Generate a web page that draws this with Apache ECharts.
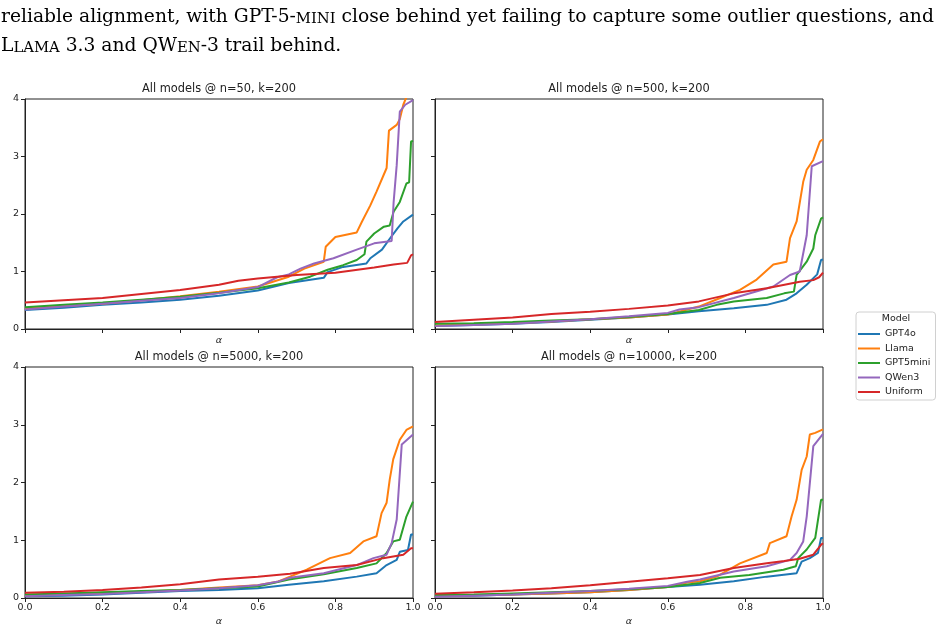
<!DOCTYPE html>
<html><head><meta charset="utf-8">
<script src="https://cdn.jsdelivr.net/npm/echarts@6/dist/echarts.min.js"></script>
<style>html,body{margin:0;padding:0;background:#fff}#c{width:947px;height:633px}</style>
</head><body><div id="c"></div>
<script>
const models = ['GPT4o', 'Llama', 'GPT5mini', 'QWen3', 'Uniform'];
const colors = ['#1f77b4', '#ff7f0e', '#2ca02c', '#9467bd', '#d62728'];
const panelTitles = ['All models @ n=50, k=200', 'All models @ n=500, k=200', 'All models @ n=5000, k=200', 'All models @ n=10000, k=200'];
const xTickStep = 0.2;
const yTickStep = 1;
const yMax = 4;

// n = 50
const n50_GPT4o = [[0,0.33],[0.1,0.37],[0.2,0.42],[0.3,0.46],[0.4,0.51],[0.5,0.58],[0.6,0.67],[0.68,0.8],[0.77,0.89],[0.78,0.99],[0.82,1.08],[0.88,1.14],[0.89,1.23],[0.92,1.38],[0.94,1.57],[0.96,1.75],[0.975,1.87],[1.0,1.99]];
const n50_Llama = [[0,0.36],[0.1,0.4],[0.2,0.44],[0.3,0.5],[0.4,0.57],[0.5,0.65],[0.6,0.74],[0.68,0.91],[0.72,1.05],[0.77,1.17],[0.775,1.43],[0.8,1.6],[0.855,1.68],[0.868,1.86],[0.89,2.15],[0.906,2.39],[0.932,2.8],[0.938,3.45],[0.958,3.55],[0.966,3.65],[0.975,3.9],[0.984,4.05],[1.0,4.3]];
const n50_GPT5mini = [[0,0.38],[0.1,0.42],[0.2,0.46],[0.3,0.51],[0.4,0.56],[0.5,0.63],[0.6,0.71],[0.68,0.81],[0.735,0.91],[0.78,1.03],[0.82,1.11],[0.855,1.2],[0.875,1.3],[0.88,1.52],[0.9,1.66],[0.925,1.78],[0.94,1.8],[0.95,2.04],[0.966,2.21],[0.983,2.53],[0.99,2.55],[0.995,3.26],[1.0,3.27]];
const n50_QWen3 = [[0,0.34],[0.1,0.39],[0.2,0.44],[0.3,0.49],[0.4,0.54],[0.5,0.62],[0.6,0.73],[0.65,0.9],[0.68,0.95],[0.71,1.05],[0.745,1.14],[0.795,1.23],[0.855,1.38],[0.9,1.49],[0.945,1.53],[0.95,2.2],[0.958,2.85],[0.966,3.78],[0.98,3.9],[1.0,3.98]];
const n50_Uniform = [[0,0.46],[0.1,0.5],[0.2,0.54],[0.3,0.61],[0.4,0.68],[0.5,0.77],[0.55,0.84],[0.6,0.88],[0.7,0.94],[0.8,0.98],[0.9,1.07],[0.95,1.12],[0.985,1.15],[0.995,1.28],[1.0,1.3]];

// n = 500
const n500_GPT4o = [[0,0.05],[0.1,0.07],[0.2,0.09],[0.3,0.12],[0.4,0.16],[0.5,0.2],[0.6,0.25],[0.68,0.31],[0.77,0.36],[0.855,0.42],[0.906,0.51],[0.932,0.62],[0.958,0.77],[0.985,0.95],[0.995,1.2],[1.0,1.21]];
const n500_Llama = [[0,0.06],[0.1,0.08],[0.2,0.1],[0.3,0.13],[0.4,0.17],[0.5,0.2],[0.6,0.25],[0.68,0.39],[0.735,0.54],[0.786,0.68],[0.829,0.86],[0.872,1.12],[0.906,1.17],[0.915,1.58],[0.932,1.87],[0.949,2.56],[0.958,2.77],[0.975,2.94],[0.992,3.26],[1.0,3.3]];
const n500_GPT5mini = [[0,0.09],[0.1,0.1],[0.2,0.12],[0.3,0.15],[0.4,0.17],[0.5,0.21],[0.6,0.26],[0.68,0.33],[0.726,0.42],[0.77,0.48],[0.855,0.54],[0.9,0.62],[0.925,0.65],[0.932,0.94],[0.958,1.17],[0.975,1.4],[0.98,1.63],[0.995,1.92],[1.0,1.94]];
const n500_QWen3 = [[0,0.05],[0.1,0.07],[0.2,0.09],[0.3,0.13],[0.4,0.17],[0.5,0.22],[0.6,0.28],[0.63,0.34],[0.68,0.38],[0.77,0.54],[0.872,0.74],[0.915,0.94],[0.94,1.0],[0.958,1.63],[0.971,2.83],[1.0,2.92]];
const n500_Uniform = [[0,0.12],[0.1,0.16],[0.2,0.2],[0.3,0.26],[0.4,0.3],[0.5,0.35],[0.6,0.41],[0.68,0.48],[0.77,0.62],[0.855,0.71],[0.94,0.82],[0.975,0.85],[0.99,0.9],[1.0,0.98]];

// n = 5000
const n5000_GPT4o = [[0,0.03],[0.1,0.04],[0.2,0.06],[0.3,0.09],[0.4,0.12],[0.5,0.14],[0.6,0.17],[0.68,0.23],[0.77,0.29],[0.855,0.37],[0.906,0.43],[0.932,0.57],[0.958,0.66],[0.966,0.8],[0.987,0.83],[0.995,1.1],[1.0,1.1]];
const n5000_Llama = [[0,0.05],[0.1,0.07],[0.2,0.09],[0.3,0.11],[0.4,0.14],[0.5,0.18],[0.6,0.22],[0.65,0.28],[0.683,0.37],[0.726,0.49],[0.786,0.69],[0.838,0.78],[0.872,0.98],[0.906,1.07],[0.919,1.47],[0.932,1.65],[0.94,2.05],[0.949,2.4],[0.966,2.74],[0.983,2.91],[1.0,2.97]];
const n5000_GPT5mini = [[0,0.06],[0.1,0.08],[0.2,0.1],[0.3,0.12],[0.4,0.14],[0.5,0.17],[0.6,0.2],[0.68,0.32],[0.77,0.41],[0.855,0.52],[0.906,0.6],[0.932,0.78],[0.949,0.98],[0.966,1.01],[0.983,1.41],[1.0,1.67]];
const n5000_QWen3 = [[0,0.03],[0.1,0.05],[0.2,0.07],[0.3,0.1],[0.4,0.13],[0.5,0.17],[0.6,0.22],[0.65,0.28],[0.683,0.35],[0.77,0.43],[0.855,0.57],[0.898,0.69],[0.932,0.75],[0.945,0.95],[0.958,1.36],[0.971,2.66],[1.0,2.83]];
const n5000_Uniform = [[0,0.09],[0.1,0.11],[0.2,0.14],[0.3,0.18],[0.4,0.24],[0.5,0.32],[0.6,0.37],[0.683,0.42],[0.77,0.52],[0.855,0.57],[0.923,0.69],[0.975,0.75],[0.995,0.86],[1.0,0.86]];

// n = 10000
const n10000_GPT4o = [[0,0.03],[0.1,0.04],[0.2,0.06],[0.3,0.08],[0.4,0.1],[0.5,0.14],[0.6,0.19],[0.683,0.23],[0.77,0.29],[0.855,0.37],[0.932,0.43],[0.945,0.63],[0.966,0.69],[0.987,0.78],[0.995,1.04],[1.0,1.04]];
const n10000_Llama = [[0,0.03],[0.1,0.05],[0.2,0.06],[0.3,0.08],[0.4,0.1],[0.5,0.14],[0.6,0.19],[0.65,0.27],[0.683,0.29],[0.726,0.37],[0.786,0.6],[0.855,0.78],[0.863,0.95],[0.906,1.07],[0.919,1.41],[0.932,1.7],[0.945,2.22],[0.958,2.45],[0.966,2.83],[0.98,2.86],[1.0,2.92]];
const n10000_GPT5mini = [[0,0.05],[0.1,0.06],[0.2,0.08],[0.3,0.1],[0.4,0.12],[0.5,0.15],[0.6,0.19],[0.683,0.26],[0.735,0.35],[0.81,0.4],[0.898,0.49],[0.93,0.55],[0.936,0.69],[0.958,0.84],[0.98,1.04],[0.995,1.7],[1.0,1.7]];
const n10000_QWen3 = [[0,0.02],[0.1,0.04],[0.2,0.06],[0.3,0.09],[0.4,0.12],[0.5,0.16],[0.6,0.21],[0.65,0.28],[0.683,0.32],[0.77,0.46],[0.855,0.55],[0.915,0.66],[0.932,0.78],[0.949,0.98],[0.958,1.41],[0.975,2.63],[1.0,2.84]];
const n10000_Uniform = [[0,0.075],[0.1,0.1],[0.2,0.13],[0.3,0.17],[0.4,0.22],[0.5,0.28],[0.6,0.34],[0.683,0.4],[0.77,0.52],[0.855,0.6],[0.9,0.64],[0.94,0.68],[0.975,0.75],[0.995,0.92],[1.0,0.95]];

const panels = [
  [n50_GPT4o, n50_Llama, n50_GPT5mini, n50_QWen3, n50_Uniform],
  [n500_GPT4o, n500_Llama, n500_GPT5mini, n500_QWen3, n500_Uniform],
  [n5000_GPT4o, n5000_Llama, n5000_GPT5mini, n5000_QWen3, n5000_Uniform],
  [n10000_GPT4o, n10000_Llama, n10000_GPT5mini, n10000_QWen3, n10000_Uniform]
];

const gridBoxes = [
  {left: 25, top: 99, width: 388, height: 230},
  {left: 435, top: 99, width: 388, height: 230},
  {left: 25, top: 367, width: 388, height: 231},
  {left: 435, top: 367, width: 388, height: 231}
];

const INK = '#222';
const SANS = 'DejaVu Sans';
const grid = gridBoxes.map(b => Object.assign({show: true, borderColor: INK, borderWidth: 1, containLabel: false}, b));

const xAxis = gridBoxes.map((b, i) => ({
  type: 'value', gridIndex: i, min: 0, max: 1, interval: xTickStep,
  name: 'α', nameLocation: 'middle', nameGap: i >= 2 ? 19 : 7,
  nameTextStyle: {fontFamily: SANS, fontStyle: 'italic', fontSize: 9.5, color: INK, verticalAlign: 'top'},
  axisLine: {show: true, lineStyle: {color: INK, width: 1}},
  axisTick: {show: true, length: 4, lineStyle: {color: INK, width: 1}},
  axisLabel: {show: i >= 2, margin: 5, fontFamily: SANS, fontSize: 9.5, color: INK, formatter: v => v.toFixed(1)},
  splitLine: {show: false}
}));

const yAxis = gridBoxes.map((b, i) => ({
  type: 'value', gridIndex: i, min: 0, max: yMax, interval: yTickStep,
  axisLine: {show: true, lineStyle: {color: INK, width: 1}},
  axisTick: {show: true, length: 4, lineStyle: {color: INK, width: 1}},
  axisLabel: {show: i % 2 === 0, margin: 6, fontFamily: SANS, fontSize: 9.5, color: INK},
  splitLine: {show: false}
}));

const series = [];
panels.forEach((p, i) => {
  p.forEach((d, j) => {
    series.push({
      name: models[j], type: 'line', xAxisIndex: i, yAxisIndex: i,
      data: d, showSymbol: false, symbol: 'none', clip: true,
      color: colors[j], lineStyle: {color: colors[j], width: 2}, z: 2 + j
    });
  });
});

const serif = 'DejaVu Serif';
const graphic = [
  {type: 'text', x: 1, y: -2, z: 100, style: {
    text: '{r|reliable alignment, with GPT-5-}{s|MINI}{r| close behind yet failing to capture some outlier questions, and}\n{r|L}{s|LAMA}{r| 3.3 and QW}{s|EN}{r|-3 trail behind.}',
    rich: {
      r: {fontFamily: serif, fontSize: 18.7, fill: '#000', lineHeight: 29, verticalAlign: 'bottom'},
      s: {fontFamily: serif, fontSize: 14.8, fill: '#000', lineHeight: 29, verticalAlign: 'bottom'}
    }
  }},
  {type: 'text', x: 896, y: 319, z: 100, style: {text: 'Model', fontFamily: SANS, fontSize: 9.5, fill: INK, align: 'center', verticalAlign: 'middle'}}
];
gridBoxes.forEach((b, i) => {
  graphic.push({type: 'text', x: b.left + b.width / 2, y: b.top - 10, z: 100, style: {
    text: panelTitles[i], fontFamily: SANS, fontSize: 11.4, fill: INK, align: 'center', verticalAlign: 'middle'}});
});

const chart = echarts.init(document.getElementById('c'), null, {renderer: 'canvas'});
chart.setOption({
  animation: false,
  backgroundColor: '#fff',
  grid, xAxis, yAxis, series, graphic,
  legend: {
    data: models, orient: 'vertical', left: 856, top: 312, z: 1,
    padding: [16, 5, 2, 2], itemGap: 2.5, itemWidth: 22, itemHeight: 2, icon: 'rect',
    borderColor: '#d0d0d0', borderWidth: 1, borderRadius: 3,
    textStyle: {fontFamily: SANS, fontSize: 9.5, color: INK, lineHeight: 12},
    selectedMode: false
  }
});
</script></body></html>
